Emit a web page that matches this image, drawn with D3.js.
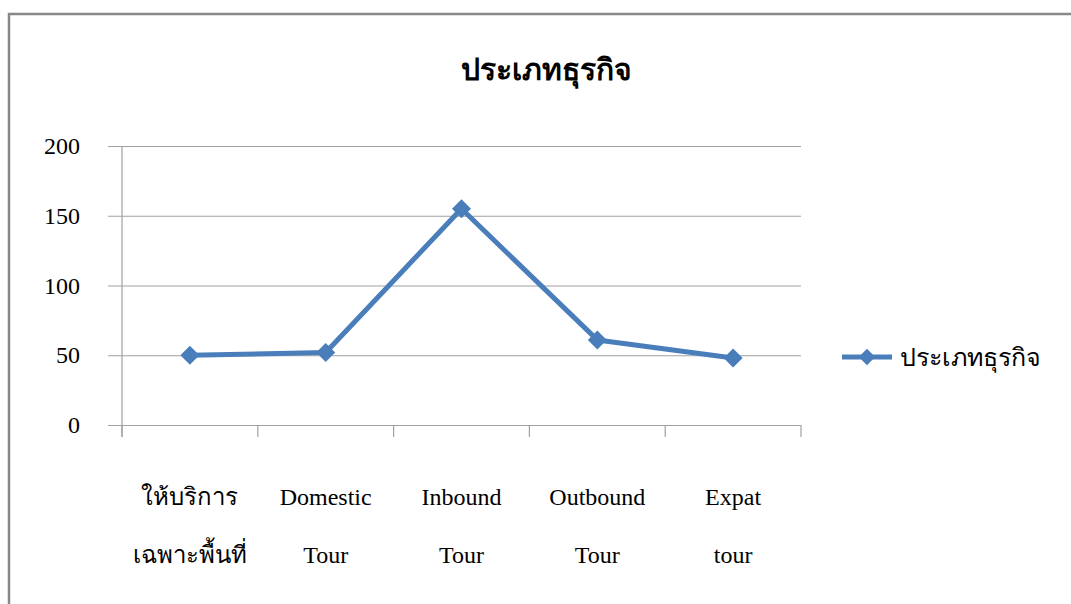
<!DOCTYPE html>
<html>
<head>
<meta charset="utf-8">
<script src="https://cdn.jsdelivr.net/npm/d3@7"></script>
<style>
  html, body { margin: 0; padding: 0; background: #fff; }
  svg { display: block; }
  text { font-family: "Liberation Serif", "Times New Roman", serif; fill: #000; }
</style>
</head>
<body>
<svg id="chart" width="1071" height="604"></svg>
<script>
// Business type counts
const chartTitle = "ประเภทธุรกิจ";
const seriesName = "ประเภทธุรกิจ";
const categories = [
  ["ให้บริการ", "เฉพาะพื้นที่"],
  ["Domestic", "Tour"],
  ["Inbound", "Tour"],
  ["Outbound", "Tour"],
  ["Expat", "tour"]
];
const values = [50, 52, 155, 61, 48];
const yTicks = [0, 50, 100, 150, 200];

const svg = d3.select("#chart");
const lineColor = "#4a7ebb";
const gridColor = "#a0a0a0";

// chart frame
svg.append("rect")
  .attr("x", 9).attr("y", 14)
  .attr("width", 1070).attr("height", 600)
  .attr("fill", "#fff")
  .attr("stroke", "#888").attr("stroke-width", 2.5);

const plot = { left: 122, right: 801, top: 146, bottom: 425 };

const x = d3.scaleBand()
  .domain(d3.range(categories.length))
  .range([plot.left, plot.right])
  .padding(0);

const y = d3.scaleLinear()
  .domain([0, 200])
  .range([plot.bottom, plot.top]);

// horizontal gridlines + y axis labels
const yAxis = d3.axisLeft(y)
  .tickValues(yTicks)
  .tickSize(-(plot.right - plot.left))
  .tickPadding(42)
  .tickFormat(d3.format("d"));

const yg = svg.append("g")
  .attr("transform", `translate(${plot.left},0)`)
  .call(yAxis);
yg.select(".domain").remove();
yg.selectAll(".tick line")
  .attr("stroke", gridColor).attr("stroke-width", 1.2)
  .attr("x1", -14);
yg.selectAll(".tick text")
  .style("font-size", "24px")
  .attr("dy", "0.32em");

// vertical axis line
svg.append("line")
  .attr("x1", plot.left).attr("x2", plot.left)
  .attr("y1", plot.top).attr("y2", plot.bottom + 12)
  .attr("stroke", gridColor).attr("stroke-width", 1.2);

// category tick marks at band boundaries
const boundaries = d3.range(categories.length + 1).map(i =>
  i < categories.length ? x(i) : x(categories.length - 1) + x.bandwidth());
svg.append("g").selectAll("line")
  .data(boundaries)
  .join("line")
  .attr("x1", d => d).attr("x2", d => d)
  .attr("y1", plot.bottom).attr("y2", plot.bottom + 12)
  .attr("stroke", gridColor).attr("stroke-width", 1.2);

// category labels (two lines each)
const catG = svg.append("g");
categories.forEach((lines, i) => {
  const cx = x(i) + x.bandwidth() / 2;
  lines.forEach((t, j) => {
    catG.append("text")
      .attr("x", cx)
      .attr("y", 505 + j * 58)
      .attr("text-anchor", "middle")
      .style("font-size", "24px")
      .text(t);
  });
});

// series line
const cxOf = i => x(i) + x.bandwidth() / 2;
const line = d3.line()
  .x((d, i) => cxOf(i))
  .y(d => y(d));

svg.append("path")
  .datum(values)
  .attr("d", line)
  .attr("fill", "none")
  .attr("stroke", lineColor)
  .attr("stroke-width", 5)
  .attr("stroke-linejoin", "round");

const diamond = d3.symbol().type(d3.symbolDiamond2).size(230);
svg.append("g").selectAll("path")
  .data(values)
  .join("path")
  .attr("d", diamond)
  .attr("transform", (d, i) => `translate(${cxOf(i)},${y(d)})`)
  .attr("fill", lineColor);

// title
svg.append("text")
  .attr("x", 546).attr("y", 80)
  .attr("text-anchor", "middle")
  .style("font-size", "30px")
  .style("font-weight", "bold")
  .text(chartTitle);

// legend
const lg = svg.append("g").attr("transform", "translate(842,357)");
lg.append("line")
  .attr("x1", 0).attr("x2", 50)
  .attr("stroke", lineColor).attr("stroke-width", 5);
lg.append("path")
  .attr("d", d3.symbol().type(d3.symbolDiamond2).size(170))
  .attr("transform", "translate(25,0)")
  .attr("fill", lineColor);
lg.append("text")
  .attr("x", 58).attr("y", 0)
  .attr("dy", "0.35em")
  .style("font-size", "25px")
  .text(seriesName);
</script>
</body>
</html>
